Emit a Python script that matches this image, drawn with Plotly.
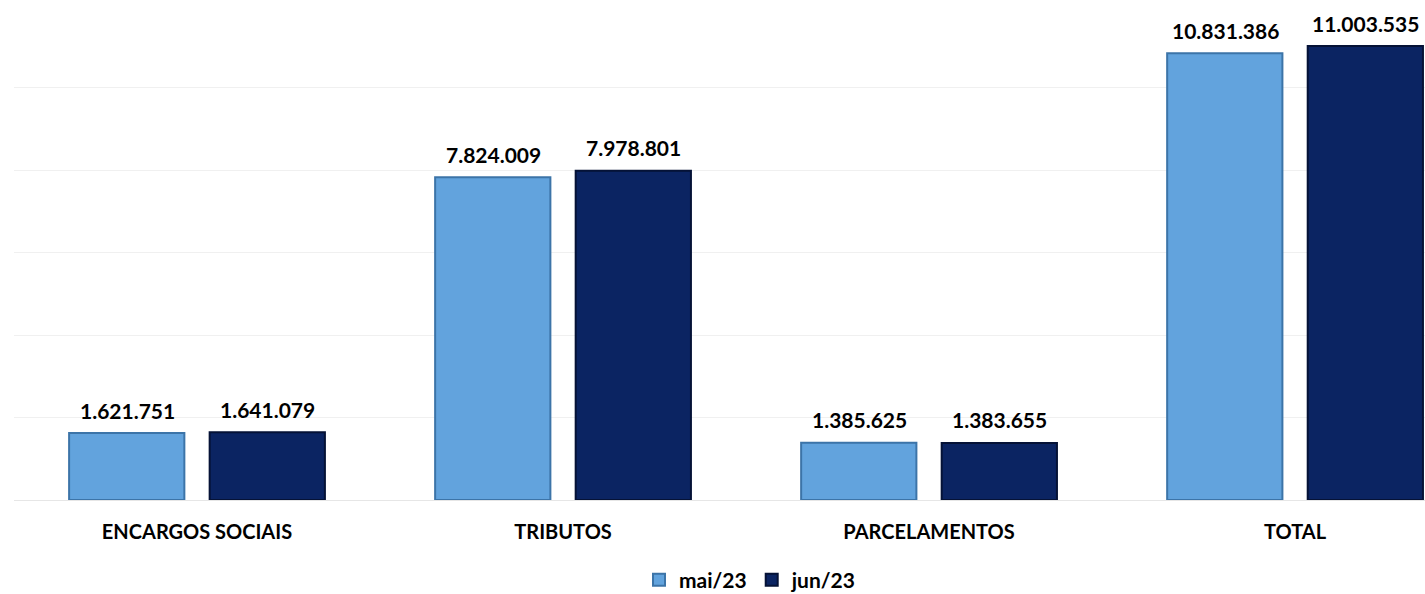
import plotly.graph_objects as go

categories = ["ENCARGOS SOCIAIS", "TRIBUTOS", "PARCELAMENTOS", "TOTAL"]
series_names = ["mai/23", "jun/23"]
mai_values = [1621751, 7824009, 1385625, 10831386]
jun_values = [1641079, 7978801, 1383655, 11003535]

colors = ["#62A3DD", "#0B2462"]
line_colors = ["#3C74A8", "#051236"]


def fmt(v):
    return f"{v:,}".replace(",", ".")


fig = go.Figure()
for name, vals, c, lc in zip(series_names, [mai_values, jun_values], colors, line_colors):
    fig.add_trace(go.Bar(
        x=categories, y=vals, name=f"<b>{name}</b>",
        marker=dict(color=c, line=dict(color=lc, width=2)),
        cliponaxis=False,
    ))

# value labels above bars
for vals, xs in zip([mai_values, jun_values], [-70, 70]):
    for cat, v in zip(categories, vals):
        fig.add_annotation(
            x=cat, y=v, xref="x", yref="y", text=f"<b>{fmt(v)}</b>",
            showarrow=False, xshift=xs, yshift=23, yanchor="middle",
            font=dict(family="Lato", size=21, color="#000000"),
        )

fig.update_layout(
    width=1425, height=594,
    margin=dict(l=14, r=0, t=5, b=94, autoexpand=False),
    paper_bgcolor="white", plot_bgcolor="white",
    barmode="group", bargap=0.232, bargroupgap=0.18,
    font=dict(family="Lato", color="#000000"),
    showlegend=True,
    legend=dict(orientation="h", x=0.5216, xanchor="center", y=-0.162, yanchor="middle",
                font=dict(family="Lato", size=21, color="#000000"),
                traceorder="normal", itemwidth=30),
)
fig.update_xaxes(range=[-0.5, 3.355], showgrid=False, showline=False, ticks="",
                 ticklabelstandoff=18, automargin=False,
                 tickvals=categories, ticktext=[f"<b>{c}</b>" for c in categories],
                 tickfont=dict(family="Lato", size=20, color="#000000"))
fig.update_yaxes(range=[0, 12000000], dtick=2000000, showgrid=True, gridcolor="#F0F0F0",
                 gridwidth=1, showticklabels=False, zeroline=True, zerolinecolor="#E6E6E6",
                 zerolinewidth=1, automargin=False)

fig.write_html("out.html", config={"displayModeBar": False},
               post_script="document.body.style.margin='0';document.body.style.overflow='hidden';")
